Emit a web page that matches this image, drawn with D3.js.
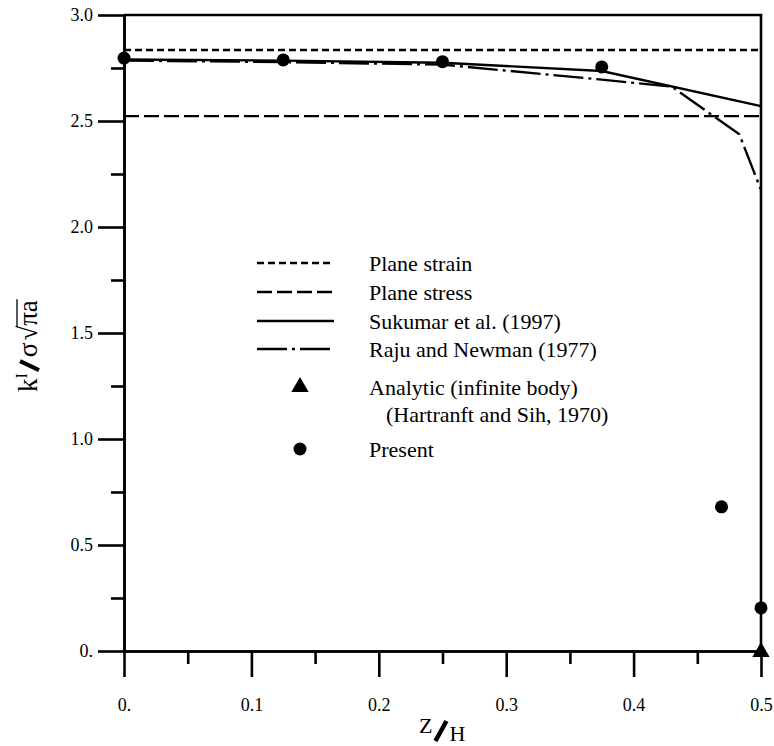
<!DOCTYPE html>
<html>
<head>
<meta charset="utf-8">
<script src="https://cdn.jsdelivr.net/npm/d3@7"></script>
<style>
html, body { margin: 0; padding: 0; background: #fff; }
svg { display: block; }
text { font-family: "Liberation Serif", "Times New Roman", serif; fill: #000; }
</style>
</head>
<body>
<svg id="chart" width="774" height="746"></svg>
<script>
// ---- data ----
const xMajorTicks = [0, 0.1, 0.2, 0.3, 0.4, 0.5];
const xTickLabels = ["0.", "0.1", "0.2", "0.3", "0.4", "0.5"];
const xMinorTicks = [0.05, 0.15, 0.25, 0.35, 0.45];
const yMajorTicks = [0, 0.5, 1.0, 1.5, 2.0, 2.5, 3.0];
const yTickLabels = ["0.", "0.5", "1.0", "1.5", "2.0", "2.5", "3.0"];
const yMinorTicks = [0.25, 0.75, 1.25, 1.75, 2.25, 2.75];

const planeStrain = 2.835;
const planeStress = 2.523;

const sukumarX = [0, 0.125, 0.25, 0.375, 0.5];
const sukumarY = [2.79, 2.785, 2.775, 2.736, 2.57];

const rajuX = [0, 0.125, 0.25, 0.375, 0.43, 0.483, 0.5];
const rajuY = [2.785, 2.778, 2.766, 2.695, 2.662, 2.437, 2.175];

const presentX = [0, 0.125, 0.25, 0.375, 0.469, 0.5];
const presentY = [2.797, 2.788, 2.78, 2.755, 0.68, 0.203];

const analyticX = [0.5];
const analyticY = [0];

const legendLabels = ["Plane strain", "Plane stress", "Sukumar et al. (1997)", "Raju and Newman (1977)",
  "Analytic (infinite body)", "(Hartranft and Sih, 1970)", "Present"];

// ---- layout ----
(function () {
const svg = d3.select("#chart");
const pLeft = 124, pRight = 761, pTop = 15, pBottom = 651;
const x = d3.scaleLinear().domain([0, 0.5]).range([pLeft, pRight]);
const y = d3.scaleLinear().domain([0, 3]).range([pBottom, pTop]);
const SW = 2.6;

// frame (top & right)
svg.append("path")
  .attr("d", `M${pLeft},${y(3)}H${x(0.5)}V${y(0)}`)
  .attr("fill", "none").attr("stroke", "#000").attr("stroke-width", SW);

// x axis
const fmtX = d => xTickLabels[xMajorTicks.indexOf(d)];
const xAxis = svg.append("g").attr("transform", `translate(0,${pBottom})`)
  .call(d3.axisBottom(x).tickValues(xMajorTicks).tickFormat(fmtX).tickSize(26).tickSizeOuter(0).tickPadding(21));
const xMinor = svg.append("g").attr("transform", `translate(0,${pBottom})`)
  .call(d3.axisBottom(x).tickValues(xMinorTicks).tickFormat("").tickSize(13).tickSizeOuter(0));

// y axis
const fmtY = d => yTickLabels[yMajorTicks.indexOf(d)];
const yAxis = svg.append("g").attr("transform", `translate(${pLeft},0)`)
  .call(d3.axisLeft(y).tickValues(yMajorTicks).tickFormat(fmtY).tickSize(26).tickSizeOuter(0).tickPadding(5));
const yMinor = svg.append("g").attr("transform", `translate(${pLeft},0)`)
  .call(d3.axisLeft(y).tickValues(yMinorTicks).tickFormat("").tickSize(13).tickSizeOuter(0));

[xAxis, xMinor, yAxis, yMinor].forEach(g => {
  g.selectAll("path.domain").attr("stroke", "#000").attr("stroke-width", SW);
  g.selectAll(".tick line").attr("stroke", "#000").attr("stroke-width", SW);
  g.selectAll(".tick text").attr("font-family", "Liberation Serif").attr("font-size", 18).attr("fill", "#000");
});

const plot = svg.append("g");

// reference lines
plot.append("line").attr("x1", x(0)).attr("x2", x(0.5)).attr("y1", y(planeStrain)).attr("y2", y(planeStrain))
  .attr("stroke", "#000").attr("stroke-width", 2.4).attr("stroke-dasharray", "7,4");
plot.append("line").attr("x1", x(0)).attr("x2", x(0.5)).attr("y1", y(planeStress)).attr("y2", y(planeStress))
  .attr("stroke", "#000").attr("stroke-width", 2.4).attr("stroke-dasharray", "15,5");

const line = d3.line().x(d => x(d[0])).y(d => y(d[1]));
plot.append("path").datum(sukumarX.map((v, i) => [v, sukumarY[i]])).attr("d", line)
  .attr("fill", "none").attr("stroke", "#000").attr("stroke-width", 2.4);
plot.append("path").datum(rajuX.map((v, i) => [v, rajuY[i]])).attr("d", line)
  .attr("fill", "none").attr("stroke", "#000").attr("stroke-width", 2.4).attr("stroke-dasharray", "30,5,3,5");

// present points
plot.selectAll("circle.present").data(presentX.map((v, i) => [v, presentY[i]])).join("circle")
  .attr("class", "present").attr("cx", d => x(d[0])).attr("cy", d => y(d[1])).attr("r", 6.5).attr("fill", "#000");

// analytic triangle
const tri = d3.symbol().type(d3.symbolTriangle).size(130);
plot.selectAll("path.analytic").data(analyticX.map((v, i) => [v, analyticY[i]])).join("path")
  .attr("class", "analytic").attr("d", tri).attr("fill", "#000")
  .attr("transform", d => `translate(${x(d[0])},${y(d[1]) + 1})`);

// ---- legend ----
const lg = svg.append("g");
const lx1 = 257, lx2 = 334, tx = 369, sx = 300;
const rowsY = [263, 292, 321, 349, 387, 414, 449];
const legFont = 22;
const styles = [{dash: "7,4"}, {dash: "15,5"}, {dash: null}, {dash: "30,5,3,5"}];
styles.forEach((s, i) => {
  const l = lg.append("line").attr("x1", lx1).attr("x2", lx2).attr("y1", rowsY[i]).attr("y2", rowsY[i])
    .attr("stroke", "#000").attr("stroke-width", 2.4);
  if (s.dash) l.attr("stroke-dasharray", s.dash);
});
lg.append("path").attr("d", tri).attr("fill", "#000").attr("transform", `translate(${sx},${rowsY[4]})`);
lg.append("circle").attr("cx", sx).attr("cy", rowsY[6]).attr("r", 6.5).attr("fill", "#000");
legendLabels.forEach((t, i) => {
  lg.append("text").attr("x", i === 5 ? tx + 17 : tx).attr("y", rowsY[i]).attr("dy", "0.35em")
    .attr("font-size", legFont).text(t);
});

// ---- axis titles ----
let cx = 0;
function piece(g, txt, size, base) {
  const t = g.append("text").attr("x", cx).attr("y", base).attr("font-size", size).text(txt);
  const w = t.node().getComputedTextLength();
  cx += w;
  return {t, start: cx - w, w};
}
// y title: k^I / σ √(πa), rotated
const yt = svg.append("g").attr("transform", "translate(37,392) rotate(-90)");
piece(yt, "k", 27, 0);
piece(yt, "I", 16, -10);
cx += 3;
yt.append("line").attr("x1", cx).attr("y1", 2).attr("x2", cx + 9).attr("y2", -17)
  .attr("stroke", "#000").attr("stroke-width", 4);
cx += 13;
piece(yt, "σ", 27, 0);
cx += 2;
const sq = piece(yt, "√", 27, 0);
const pa = piece(yt, "πa", 27, 0);
yt.append("line").attr("x1", sq.start + sq.w - 1).attr("x2", pa.start + pa.w + 1)
  .attr("y1", -20).attr("y2", -20).attr("stroke", "#000").attr("stroke-width", 1.3);

// x title: Z / H
const xt = svg.append("g").attr("transform", "translate(419,0)");
cx = 0;
piece(xt, "Z", 22, 733);
cx += 3;
xt.append("line").attr("x1", cx).attr("y1", 741).attr("x2", cx + 11).attr("y2", 721)
  .attr("stroke", "#000").attr("stroke-width", 4.5);
cx += 14;
piece(xt, "H", 22, 741);
})();
</script>
</body>
</html>
